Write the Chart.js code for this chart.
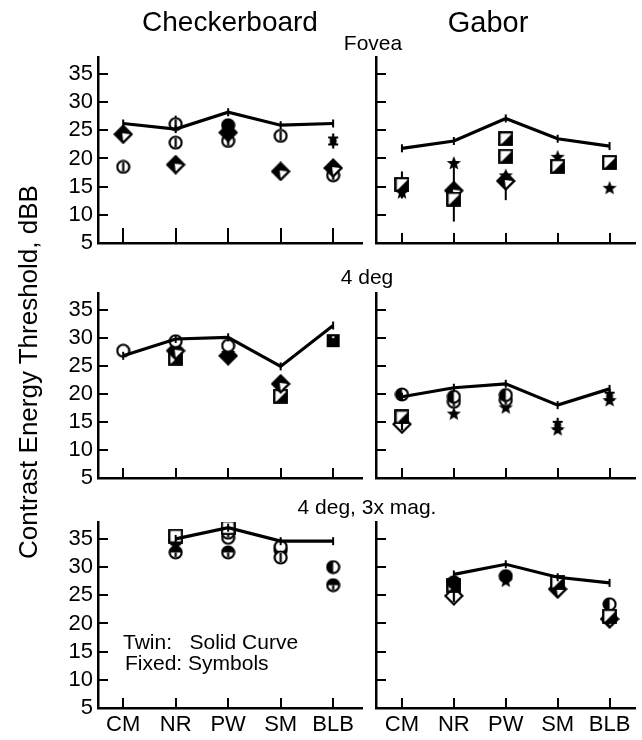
<!DOCTYPE html>
<html>
<head>
<meta charset="utf-8">
<script src="https://cdn.jsdelivr.net/npm/chart.js@4.4.1/dist/chart.umd.min.js"></script>
<style>
  html, body { margin: 0; padding: 0; background: #fff; }
  #wrap { position: relative; width: 642px; height: 740px; overflow: hidden; font-family: "Liberation Sans", Arial, Helvetica, sans-serif; color: #000; }
  #wrap canvas { position: absolute; left: 0; top: 0; }
  .t { position: absolute; white-space: pre; line-height: 1; }
</style>
</head>
<body>
<div id="wrap">
  <canvas id="c1" width="642" height="740"></canvas>
  <canvas id="c2" width="642" height="740"></canvas>
  <canvas id="c3" width="642" height="740"></canvas>
  <canvas id="c4" width="642" height="740"></canvas>
  <canvas id="c5" width="642" height="740"></canvas>
  <canvas id="c6" width="642" height="740"></canvas>
  <div class="t" style="font-size:28px;left:230px;top:8px;transform:translateX(-50%)">Checkerboard</div>
  <div class="t" style="font-size:29px;left:488px;top:8px;transform:translateX(-50%)">Gabor</div>
  <div class="t" style="font-size:21px;left:373px;top:32px;transform:translateX(-50%)">Fovea</div>
  <div class="t" style="font-size:21px;left:367px;top:266px;transform:translateX(-50%)">4 deg</div>
  <div class="t" style="font-size:21px;left:367px;top:496px;transform:translateX(-50%)">4 deg, 3x mag.</div>
  <div class="t" style="font-size:21px;left:123px;top:631px">Twin:   Solid Curve</div>
  <div class="t" style="font-size:21px;left:125px;top:652px">Fixed: Symbols</div>
  <div class="t" style="font-size:26px;left:-172px;top:359px;width:400px;text-align:center;transform:rotate(-90deg)">Contrast Energy Threshold, dBB</div>
</div>
<script>
// ---------------- data ----------------
const categories = ['CM', 'NR', 'PW', 'SM', 'BLB'];
const yTicks = [5, 10, 15, 20, 25, 30, 35];

// Fovea, Checkerboard
const fovCheckTwin = [26.2, 25.2, 28.2, 25.9, 26.2];
const fovCheckDiamondHalf = [24.3, 18.9, null, 17.7, 18.3];
const fovCheckDiamondFilled = [null, null, 24.6, null, null];
const fovCheckCircleBar = [18.5, 26.1, 23.1, 24.0, 17.0];
const fovCheckCircleBar2 = [null, 22.8, null, null, null];
const fovCheckCircleFilled = [null, null, 25.9, null, null];
const fovCheckDblCross = [null, null, null, null, 23.1];
const fovCheckErrLow = [null, 25.0, 22.0, null, 16.0];
const fovCheckErrHigh = [null, 27.6, 26.6, null, 19.5];

// Fovea, Gabor
const fovGaborTwin = [21.8, 23.1, 27.1, 23.5, 22.2];
const fovGaborSquareHalf = [15.4, 12.8, 23.5, 18.6, 19.3];
const fovGaborSquareHalf2 = [null, null, 20.4, null, null];
const fovGaborStar = [14.0, 19.2, 17.0, 20.3, 14.8];
const fovGaborDiamondHalf = [null, 14.3, 16.0, null, null];
const fovGaborErrLow = [12.9, 8.8, 12.6, null, null];
const fovGaborErrHigh = [17.7, 19.5, 17.7, null, null];

// 4 deg, Checkerboard
const deg4CheckTwin = [26.8, 29.8, 30.1, 24.9, 32.2];
const deg4CheckCircleOpen = [27.7, 29.4, 28.6, null, null];
const deg4CheckDiamondHalf = [null, 27.7, null, 21.8, null];
const deg4CheckDiamondFilled = [null, null, 26.8, null, null];
const deg4CheckStar = [null, null, 27.3, null, null];
const deg4CheckSquareHalf = [null, 26.4, null, 19.6, null];
const deg4CheckSquareFilled = [null, null, null, null, 29.5];

// 4 deg, Gabor
const deg4GaborTwin = [19.5, 21.1, 21.8, 18.0, 20.9];
const deg4GaborCircleFilled = [19.9, 19.5, 19.8, null, null];
const deg4GaborCircleBar = [null, 18.6, 18.9, null, null];
const deg4GaborSquareHalf = [15.9, null, null, null, null];
const deg4GaborDiamondOpen = [14.6, null, null, null, null];
const deg4GaborStar = [null, 16.5, 17.6, 13.7, 18.9];
const deg4GaborDblCross = [null, null, null, 14.4, 19.6];

// 4 deg 3x mag, Checkerboard
const magCheckTwin = [null, 35.0, 37.0, 34.6, 34.6];
const magCheckSquareOpen = [null, 35.5, 37.0, null, null];
const magCheckCircleFilled = [null, 34.8, null, 33.0, null];
const magCheckCircleHalf = [null, 32.6, 32.6, null, 26.8];
const magCheckCircleBar = [null, null, 36.1, 31.7, null];
const magCheckCircleOpen = [null, null, 35.2, 33.6, null];
const magCheckCircleLeft = [null, null, null, null, 30.0];

// 4 deg 3x mag, Gabor
const magGaborTwin = [null, 28.7, 30.5, 28.2, 27.2];
const magGaborSquareHalf = [null, 26.8, null, 27.3, 21.3];
const magGaborDiamondOpen = [null, 24.9, null, null, null];
const magGaborCircleFilled = [null, 27.3, 28.4, null, null];
const magGaborStar = [null, null, 27.6, null, null];
const magGaborDiamondHalf = [null, null, null, 26.1, 20.8];
const magGaborCircleLeft = [null, null, null, null, 23.4];

// ---------------- symbols ----------------
function mk(w, h, draw) {
  const c = document.createElement('canvas');
  c.width = w; c.height = h;
  const g = c.getContext('2d');
  g.lineWidth = 2.2; g.strokeStyle = '#000'; g.fillStyle = '#000';
  draw(g, w, h);
  return c;
}
function diamondPath(g, s) { const m = s / 2, e = 1.5; g.beginPath(); g.moveTo(m, e); g.lineTo(s - e, m); g.lineTo(m, s - e); g.lineTo(e, m); g.closePath(); }
function circlePath(g, s) { g.beginPath(); g.arc(s / 2, s / 2, s / 2 - 1.5, 0, Math.PI * 2); }
const SYM = {
  diamondHalf: mk(20, 20, (g, s) => {
    diamondPath(g, s); g.fillStyle = '#000'; g.fill();
    g.fillStyle = '#fff'; g.beginPath(); g.moveTo(s / 2 - 1, s / 2 - 1); g.lineTo(s - 3, s / 2); g.lineTo(s / 2, s - 3); g.closePath(); g.fill();
    diamondPath(g, s); g.stroke();
  }),
  diamondOpen: mk(20, 20, (g, s) => { diamondPath(g, s); g.fillStyle = '#fff'; g.fill(); g.stroke(); g.beginPath(); g.moveTo(s / 2, 4); g.lineTo(s / 2, s - 4); g.stroke(); }),
  diamondFilled: mk(20, 20, (g, s) => { diamondPath(g, s); g.fill(); g.stroke(); }),
  circleBar: mk(15, 15, (g, s) => { circlePath(g, s); g.fillStyle = '#fff'; g.fill(); g.stroke(); g.beginPath(); g.moveTo(s / 2, 3); g.lineTo(s / 2, s - 3); g.stroke(); }),
  circleOpen: mk(15, 15, (g, s) => { circlePath(g, s); g.fillStyle = '#fff'; g.fill(); g.stroke(); }),
  circleFilled: mk(15, 15, (g, s) => { circlePath(g, s); g.fill(); g.stroke(); }),
  circleHalf: mk(15, 15, (g, s) => {
    circlePath(g, s); g.fillStyle = '#fff'; g.fill();
    g.fillStyle = '#000'; g.beginPath(); g.arc(s / 2, s / 2, s / 2 - 1.5, Math.PI, 0); g.closePath(); g.fill();
    circlePath(g, s); g.stroke(); g.beginPath(); g.moveTo(s / 2, s / 2); g.lineTo(s / 2, s - 3); g.stroke();
  }),
  circleLeft: mk(15, 15, (g, s) => {
    circlePath(g, s); g.fillStyle = '#fff'; g.fill();
    g.fillStyle = '#000'; g.beginPath(); g.arc(s / 2, s / 2, s / 2 - 1.5, Math.PI / 2, Math.PI * 1.5); g.closePath(); g.fill();
    circlePath(g, s); g.stroke();
  }),
  squareHalf: mk(15, 15, (g, s) => {
    g.fillStyle = '#fff'; g.fillRect(1, 1, s - 2, s - 2);
    g.fillStyle = '#000'; g.beginPath(); g.moveTo(s - 1, 2); g.lineTo(s - 1, s - 1); g.lineTo(2, s - 1); g.closePath(); g.fill();
    g.strokeRect(1.2, 1.2, s - 2.4, s - 2.4);
  }),
  squareOpen: mk(15, 15, (g, s) => { g.fillStyle = '#fff'; g.fillRect(1, 1, s - 2, s - 2); g.strokeRect(1.2, 1.2, s - 2.4, s - 2.4); }),
  squareFilled: mk(15, 15, (g, s) => { g.fillRect(1, 1, s - 2, s - 2); g.fillStyle = '#fff'; g.fillRect(s / 2 - 1, 3, 2, 2); }),
  star: mk(16, 16, (g, s) => {
    const cx = s / 2, cy = s / 2 + 0.5, ro = 7.5, ri = 3.2;
    g.beginPath();
    for (let i = 0; i < 10; i++) { const r = i % 2 ? ri : ro; const a = -Math.PI / 2 + i * Math.PI / 5; g.lineTo(cx + r * Math.cos(a), cy + r * Math.sin(a)); }
    g.closePath(); g.fill();
  }),
  dblCross: mk(12, 17, (g, w, h) => {
    g.beginPath(); g.moveTo(w / 2, 1); g.lineTo(w / 2, h - 1); g.stroke();
    g.beginPath(); g.moveTo(1, 5); g.lineTo(w - 1, 5); g.moveTo(1, h - 5); g.lineTo(w - 1, h - 5); g.stroke();
    g.beginPath(); g.ellipse(w / 2, h / 2, 3.5, 4.5, 0, 0, Math.PI * 2); g.fill();
  })
};

// ---------------- chart helpers ----------------
function pts(arr) { const out = []; arr.forEach((v, i) => { if (v !== null) out.push({ x: i, y: v }); }); return out; }

const inwardTicks = {
  id: 'inwardTicks',
  afterDatasetsDraw(chart, args, opts) {
    const { ctx, chartArea } = chart;
    const xs = chart.scales.x, ys = chart.scales.y;
    ctx.save();
    ctx.strokeStyle = '#000'; ctx.lineWidth = 2;
    ctx.beginPath();
    yTicks.forEach(v => { if (v > 5) { const p = Math.round(ys.getPixelForValue(v)); ctx.moveTo(chartArea.left, p); ctx.lineTo(chartArea.left + opts.yLen, p); } });
    categories.forEach((c, i) => { const p = Math.round(xs.getPixelForValue(i)); ctx.moveTo(p, chartArea.bottom); ctx.lineTo(p, chartArea.bottom - opts.xLen); });
    ctx.stroke();
    ctx.restore();
  }
};

function panel(id, cfg) {
  const datasets = [];
  datasets.push({
    type: 'line', data: pts(cfg.twin), borderColor: '#000', borderWidth: 3.2,
    pointStyle: 'line', rotation: 90, pointRadius: 4, pointBorderWidth: 2, pointBorderColor: '#000',
    tension: 0, order: 0
  });
  if (cfg.errLow) {
    cfg.errLow.forEach((lo, i) => {
      if (lo === null) return;
      datasets.push({ type: 'line', data: [{ x: i, y: lo }, { x: i, y: cfg.errHigh[i] }], borderColor: '#000', borderWidth: 2, pointRadius: 0, order: 20 });
    });
  }
  cfg.symbols.forEach(([arr, sym], k) => {
    datasets.push({ type: 'line', data: pts(arr), showLine: false, pointStyle: SYM[sym], pointRadius: 6, order: 1 + k });
  });
  const isLeft = cfg.left;
  return new Chart(document.getElementById(id), {
    type: 'line',
    data: { datasets },
    plugins: [inwardTicks],
    options: {
      responsive: false, animation: false,
      events: [],
      layout: { padding: { left: isLeft ? 40 : 366, right: isLeft ? 280 : 5, top: cfg.top, bottom: 740 - cfg.bottom - 30 } },
      plugins: { legend: { display: false }, tooltip: { enabled: false }, inwardTicks: { xLen: cfg.xLen, yLen: 10 } },
      scales: {
        x: {
          type: 'linear', min: isLeft ? -0.48 : -0.5, max: isLeft ? 4.55 : 4.49,
          afterBuildTicks: s => { s.ticks = categories.map((c, i) => ({ value: i })); },
          afterFit: s => { s.height = 30; },
          grid: { display: false, drawTicks: false },
          border: { display: true, color: '#000', width: 2.5 },
          ticks: { display: !!cfg.xLabels, padding: 4, color: '#000', font: { size: 22, family: '"Liberation Sans", Arial, sans-serif' }, callback: v => categories[v], autoSkip: false, maxRotation: 0 }
        },
        y: {
          type: 'linear', min: 5, max: 38,
          afterBuildTicks: s => { s.ticks = yTicks.map(v => ({ value: v })); },
          afterFit: s => { s.width = isLeft ? 58 : 10; },
          grid: { display: false, drawTicks: false },
          border: { display: true, color: '#000', width: 2.5 },
          ticks: { display: isLeft, padding: 5, color: '#000', font: { size: 22, family: '"Liberation Sans", Arial, sans-serif' } }
        }
      }
    }
  });
}

panel('c1', { left: true, top: 57, bottom: 243, xLen: 15, twin: fovCheckTwin, errLow: fovCheckErrLow, errHigh: fovCheckErrHigh,
  symbols: [[fovCheckDiamondHalf, 'diamondHalf'], [fovCheckCircleFilled, 'circleFilled'], [fovCheckDiamondFilled, 'diamondFilled'], [fovCheckCircleBar, 'circleBar'], [fovCheckCircleBar2, 'circleBar'], [fovCheckDblCross, 'dblCross']] });
panel('c2', { left: false, top: 57, bottom: 243, xLen: 10, twin: fovGaborTwin, errLow: fovGaborErrLow, errHigh: fovGaborErrHigh,
  symbols: [[fovGaborSquareHalf, 'squareHalf'], [fovGaborSquareHalf2, 'squareHalf'], [fovGaborDiamondHalf, 'diamondHalf'], [fovGaborStar, 'star']] });
panel('c3', { left: true, top: 293, bottom: 478, xLen: 10, twin: deg4CheckTwin,
  symbols: [[deg4CheckCircleOpen, 'circleOpen'], [deg4CheckDiamondHalf, 'diamondHalf'], [deg4CheckSquareHalf, 'squareHalf'], [deg4CheckDiamondFilled, 'diamondFilled'], [deg4CheckStar, 'star'], [deg4CheckSquareFilled, 'squareFilled']] });
panel('c4', { left: false, top: 293, bottom: 478, xLen: 10, twin: deg4GaborTwin,
  symbols: [[deg4GaborCircleFilled, 'circleLeft'], [deg4GaborCircleBar, 'circleBar'], [deg4GaborSquareHalf, 'squareHalf'], [deg4GaborDiamondOpen, 'diamondOpen'], [deg4GaborStar, 'star'], [deg4GaborDblCross, 'dblCross']] });
panel('c5', { left: true, top: 522, bottom: 708, xLen: 10, xLabels: true, twin: magCheckTwin,
  symbols: [[magCheckSquareOpen, 'squareOpen'], [magCheckCircleBar, 'circleBar'], [magCheckCircleOpen, 'circleOpen'], [magCheckCircleFilled, 'circleFilled'], [magCheckCircleHalf, 'circleHalf'], [magCheckCircleLeft, 'circleLeft']] });
panel('c6', { left: false, top: 522, bottom: 708, xLen: 10, xLabels: true, twin: magGaborTwin,
  symbols: [[magGaborCircleFilled, 'circleFilled'], [magGaborStar, 'star'], [magGaborSquareHalf, 'squareHalf'], [magGaborCircleLeft, 'circleLeft'], [magGaborDiamondHalf, 'diamondHalf'], [magGaborDiamondOpen, 'diamondOpen']] });
</script>
</body>
</html>
